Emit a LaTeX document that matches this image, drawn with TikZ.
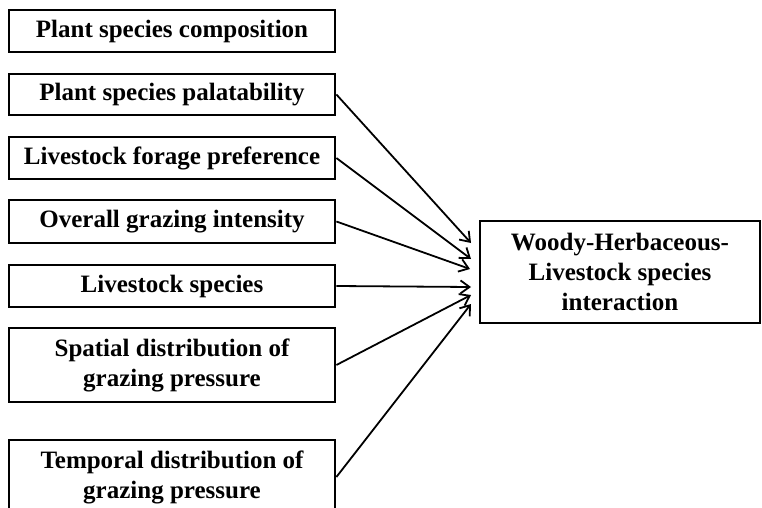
\documentclass[tikz,border=0pt]{standalone}
\usepackage{fontspec}
\setmainfont{Liberation Serif}
\usetikzlibrary{arrows.meta}
\begin{document}
\begin{tikzpicture}[x=1pt,y=-1pt,
  box/.style={draw, line width=2.8pt, rectangle, inner sep=0pt, align=center,
    font=\fontsize{25}{30}\selectfont\bfseries},
  lbox/.style={box, minimum width=326pt},
  conn/.style={line width=1.8pt, -{Straight Barb[length=9pt,width=13pt,line width=1.8pt]}}]
\useasboundingbox (0,0) rectangle (762,508);
\clip (0,0) rectangle (762,508);
\node[lbox, minimum height=42pt] (n1) at (172,31) {Plant species composition};
\node[lbox, minimum height=41pt] (n2) at (172,94.5) {Plant species palatability};
\node[lbox, minimum height=42pt] (n3) at (172,158) {Livestock forage preference};
\node[lbox, minimum height=43pt] (n4) at (172,221.5) {Overall grazing intensity};
\node[lbox, minimum height=42pt] (n5) at (172,286) {Livestock species};
\node[lbox, minimum height=74pt] (n6) at (172,365) {Spatial distribution of\\grazing pressure};
\node[lbox, minimum height=74pt] (n7) at (172,477) {Temporal distribution of\\grazing pressure};
\node[box, minimum width=280pt, minimum height=102pt] (r) at (620,272) {Woody-Herbaceous-\\Livestock species\\interaction};
\coordinate (t1) at (471,243);
\coordinate (t2) at (471,259);
\coordinate (t3) at (470,269);
\coordinate (t4) at (471,287);
\coordinate (t5) at (471,295);
\coordinate (t6) at (471,304);
\draw[conn] (n2.east) -- (t1);
\draw[conn] (n3.east) -- (t2);
\draw[conn] (n4.east) -- (t3);
\draw[conn] (n5.east) -- (t4);
\draw[conn] (n6.east) -- (t5);
\draw[conn] (n7.east) -- (t6);
\end{tikzpicture}
\end{document}
